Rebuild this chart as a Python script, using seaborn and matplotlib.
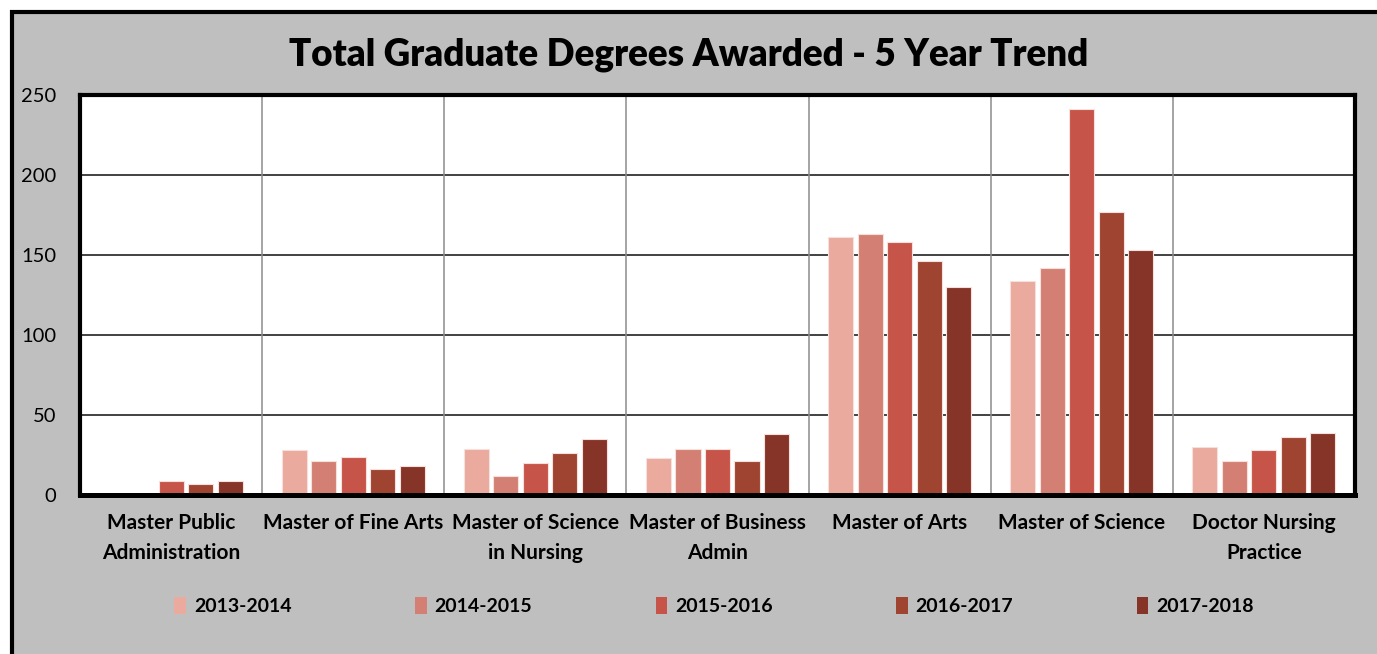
import numpy as np
import pandas as pd
import matplotlib
matplotlib.use("Agg")
import matplotlib.pyplot as plt
from matplotlib.patches import Rectangle
import seaborn as sns

# --- data ---
programs = [
    "Master Public\nAdministration",
    "Master of Fine Arts",
    "Master of Science\nin Nursing",
    "Master of Business\nAdmin",
    "Master of Arts",
    "Master of Science",
    "Doctor Nursing\nPractice",
]
years = ["2013-2014", "2014-2015", "2015-2016", "2016-2017", "2017-2018"]
y2013 = [0, 28, 29, 23, 161, 134, 30]
y2014 = [0, 21, 12, 29, 163, 142, 21]
y2015 = [9, 24, 20, 29, 158, 241, 28]
y2016 = [7, 16, 26, 21, 146, 177, 36]
y2017 = [9, 18, 35, 38, 130, 153, 39]
colors = ["#EAAA9E", "#D47F73", "#C75449", "#A04432", "#863428"]

df = pd.DataFrame({"program": programs, "2013-2014": y2013, "2014-2015": y2014,
                   "2015-2016": y2015, "2016-2017": y2016, "2017-2018": y2017})
df = df.melt(id_vars="program", var_name="year", value_name="degrees")

# --- figure ---
sns.set_style("white")
plt.rcParams["font.family"] = ["Lato", "DejaVu Sans"]
plt.rcParams["text.color"] = "black"

fig = plt.figure(figsize=(13.77, 6.54), dpi=100)
fig.patch.set_facecolor("white")
W, H = 1377, 654

# grey chart frame
fig.patches.append(Rectangle((12 / W, -0.05), 1.1, 1 - 12 / H + 0.05,
                             transform=fig.transFigure, facecolor="#BFBFBF",
                             edgecolor="black", linewidth=3, zorder=-1))

ax = fig.add_axes([80 / W, 1 - 495 / H, 1275 / W, 400 / H])
ax.set_zorder(2)
ax.set_facecolor("white")

sns.barplot(data=df, x="program", y="degrees", hue="year", hue_order=years,
            order=programs, palette=colors, saturation=1, width=0.81, gap=0.15,
            edgecolor="#F6E0DC", linewidth=0.8, ax=ax, zorder=3)

ax.set_ylim(0, 250)
ax.set_xlim(-0.5, len(programs) - 0.5)
ax.set_yticks(range(0, 251, 50))
ax.set_xlabel("")
ax.set_ylabel("")

# grid: dark horizontal lines, grey separators between programs
for v in range(50, 250, 50):
    ax.axhline(v, color="#333333", linewidth=1.3, zorder=1)
for i in range(len(programs) - 1):
    ax.axvline(i + 0.5, color="#8C8C8C", linewidth=1.1, zorder=1)

for s in ax.spines.values():
    s.set_color("black")
    s.set_linewidth(3)
    s.set_zorder(5)
ax.spines["bottom"].set_linewidth(3.6)

ax.tick_params(axis="y", labelsize=14.5, length=0, pad=17, colors="black")
ax.tick_params(axis="x", labelsize=15, length=0, pad=13, colors="black")
for lbl in ax.get_xticklabels():
    lbl.set_fontweight("bold")
    lbl.set_linespacing(1.6)

fig.text(0.5, 1 - 55 / H, "Total Graduate Degrees Awarded - 5 Year Trend",
         ha="center", va="center", fontsize=26.5, fontweight="heavy", color="black")

ax.legend_.remove()
handles = [Rectangle((0, 0), 1, 1, facecolor=c, edgecolor="none") for c in colors]
leg = fig.legend(handles, years, loc="center", bbox_to_anchor=(714 / W, 1 - 606 / H),
                 ncol=5, frameon=False, handlelength=0.6, handleheight=1.0,
                 handletextpad=0.4, columnspacing=6.35,
                 prop={"size": 14, "weight": "bold"})
for t in leg.get_texts():
    t.set_color("black")

fig.savefig("out.png", dpi=100, facecolor="white")
